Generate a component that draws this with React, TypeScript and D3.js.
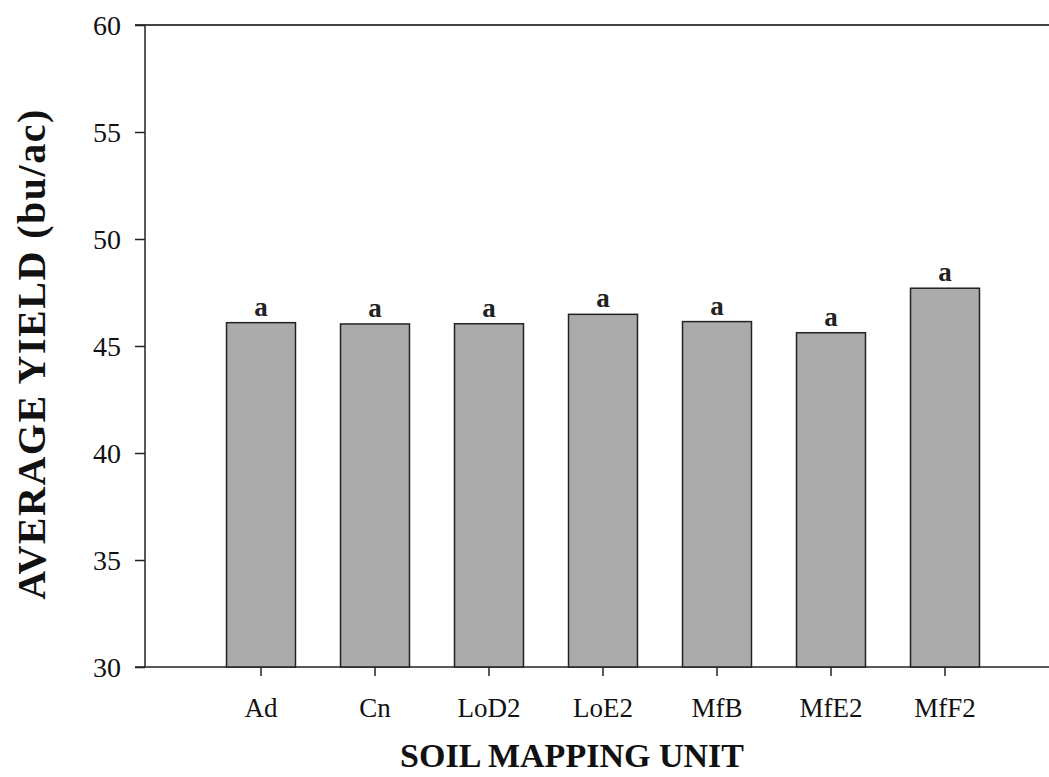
import React, { useRef, useEffect } from 'react'
import * as d3 from 'd3'

// soil mapping units and mean yields
const units = ['Ad', 'Cn', 'LoD2', 'LoE2', 'MfB', 'MfE2', 'MfF2']
const yields = [46.09, 46.03, 46.04, 46.48, 46.14, 45.62, 47.7]
const letters = ['a', 'a', 'a', 'a', 'a', 'a', 'a']
const yTicks = [30, 35, 40, 45, 50, 55, 60]

const W = 1049
const H = 777
const left = 145
const top = 25
const bottom = 667
const right = 1060
const serif = '"Liberation Serif", "Times New Roman", serif'

const App = () => {
  const xAxisEl = useRef<SVGGElement>(null)
  const yAxisEl = useRef<SVGGElement>(null)

  const y = d3.scaleLinear().domain([30, 60]).range([bottom, top])
  const x = d3.scaleBand().domain(units).range([204, 1002]).paddingInner(0.395).paddingOuter(0.1975)

  useEffect(() => {
    const yAxis = d3.axisLeft(y).tickValues(yTicks).tickSize(10).tickPadding(14)
    const xAxis = d3.axisBottom(x).tickSize(9).tickPadding(22)
    const gy = d3.select(yAxisEl.current!).call(yAxis)
    gy.attr('font-size', null).attr('font-family', null)
    gy.select('.domain').remove()
    gy.selectAll('line').attr('stroke', '#222').attr('stroke-width', 1.5)
    gy.selectAll('text').style('font-size', '28px').style('font-family', serif).attr('fill', '#111').attr('dy', '0.34em')
    const gx = d3.select(xAxisEl.current!).call(xAxis)
    gx.attr('font-size', null).attr('font-family', null)
    gx.select('.domain').remove()
    gx.selectAll('line').attr('stroke', '#222').attr('stroke-width', 1.5)
    gx.selectAll('text').style('font-size', '27px').style('font-family', serif).attr('fill', '#111')
  }, [])

  const data = units.map((u, i) => ({ name: u, value: yields[i], letter: letters[i] }))

  return (
    <svg width={W} height={H} style={{ position: 'absolute', left: 0, top: 0, background: '#fff' }}>
      {/* frame lines */}
      <line x1={left} x2={left} y1={top} y2={bottom} stroke="#222" strokeWidth={1.5} />
      <line x1={left - 10} x2={right} y1={top} y2={top} stroke="#444" strokeWidth={2} />
      <line x1={left - 10} x2={right} y1={bottom} y2={bottom} stroke="#222" strokeWidth={1.5} />
      <g>
        {data.map(d => (
          <rect key={d.name}
            x={x(d.name)} y={y(d.value)}
            width={x.bandwidth()} height={bottom - y(d.value)}
            fill="#ababab" stroke="#222" strokeWidth={1.5} />
        ))}
      </g>
      <g fontFamily={serif} fontSize={27} fontWeight="bold" textAnchor="middle" fill="#222">
        {data.map(d => (
          <text key={d.name} x={x(d.name)! + x.bandwidth() / 2} y={y(d.value) - 7}>{d.letter}</text>
        ))}
      </g>
      <g ref={yAxisEl} transform={`translate(${left},0)`} />
      <g ref={xAxisEl} transform={`translate(0,${bottom})`} />
      <text x={572} y={767} textAnchor="middle" fontFamily={serif}
        fontWeight="bold" fontSize={34} fill="#111">SOIL MAPPING UNIT</text>
      <text transform={`translate(45,354) rotate(-90)`} textAnchor="middle" letterSpacing={1.5}
        fontFamily={serif} fontWeight="bold" fontSize={40} fill="#111">AVERAGE YIELD (bu/ac)</text>
    </svg>
  )
}

export default App
